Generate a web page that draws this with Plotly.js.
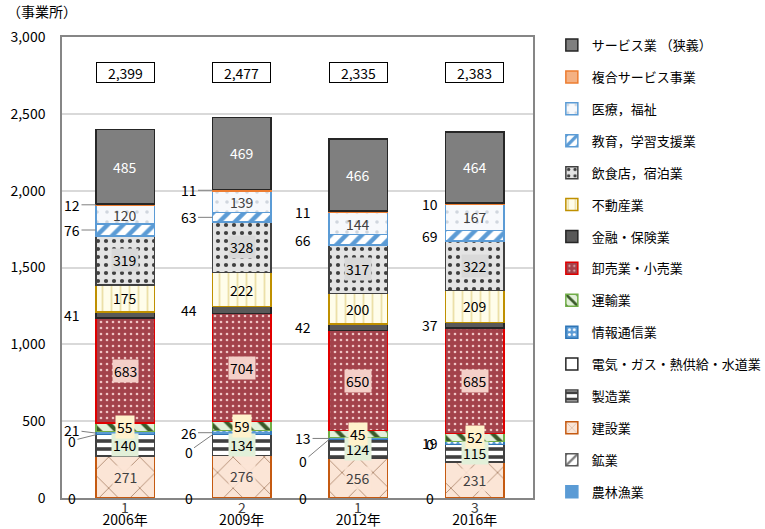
<!DOCTYPE html>
<html>
<head>
<meta charset="utf-8">
<script src="https://cdn.plot.ly/plotly-3.0.1.min.js"></script>
<style>body{margin:0;background:#fff}#chart{width:765px;height:529px}</style>
</head>
<body>
<div id="chart"></div>
<script>
// 事業所数（産業大分類別）
var years = ['2006年', '2009年', '2012年', '2016年'];

var agri = [1, 2, 1, 3];            // 農林漁業
var mining = [0, 0, 0, 0];          // 鉱業
var construction = [271, 276, 256, 231];
var manufacturing = [140, 134, 124, 115];
var utilities = [0, 0, 0, 0];       // 電気・ガス・熱供給・水道業
var infoComm = [21, 26, 13, 19];
var transport = [55, 59, 45, 52];
var wholesale = [683, 704, 650, 685];
var finance = [41, 44, 42, 37];
var realEstate = [175, 222, 200, 209];
var food = [319, 328, 317, 322];
var education = [76, 63, 66, 69];
var medical = [120, 139, 144, 167];
var compound = [12, 11, 11, 10];
var services = [485, 469, 466, 464];
var totals = [2399, 2477, 2335, 2383];

// 系列の定義（下から順）
var series = [
  {name: '農林漁業', y: agri, fill: '#5b9bd5', line: '#5b9bd5', lab: 'bottom'},
  {name: '鉱業', y: mining, fill: '#ffffff', line: '#595959', shape: '/', fg: '#7f7f7f', lab: 'left'},
  {name: '建設業', y: construction, fill: '#fbe5d6', line: '#c55a11', shape: 'x', fg: '#b08a70', size: 22, sol: 0.08, lab: 'in', bg: 'rgba(251,229,214,0.85)', tc: '#404040'},
  {name: '製造業', y: manufacturing, fill: '#ffffff', line: '#404040', shape: '-', fg: '#404040', size: 8, sol: 0.45, lab: 'in', bg: '#e2f0d9', tc: '#000'},
  {name: '電気・ガス・熱供給・水道業', y: utilities, fill: '#ffffff', line: '#262626', lab: 'left'},
  {name: '情報通信業', y: infoComm, fill: '#5b9bd5', line: '#2e75b6', shape: '.', fg: '#ffffff', size: 6, sol: 0.3, lab: 'left'},
  {name: '運輸業', y: transport, fill: '#e2f0d9', line: '#70ad47', shape: '\\', fg: '#3a5a2a', size: 12, sol: 0.35, lab: 'in', bg: '#fff2cc', tc: '#000'},
  {name: '卸売業・小売業', y: wholesale, fill: '#a3424b', line: '#e00000', shape: '.', fg: '#efc4c4', size: 6, sol: 0.15, lab: 'in', bg: '#f4cfc8', tc: '#000'},
  {name: '金融・保険業', y: finance, fill: '#595959', line: '#262626', lab: 'left'},
  {name: '不動産業', y: realEstate, fill: '#fffdea', line: '#bf9000', shape: '|', fg: '#ece0a8', size: 9, sol: 0.2, lab: 'in', tc: '#000'},
  {name: '飲食店，宿泊業', y: food, fill: '#e4e4e4', line: '#404040', shape: '.', fg: '#404040', size: 8, sol: 0.22, lab: 'in', bg: '#d9d9d9', tc: '#000'},
  {name: '教育，学習支援業', y: education, fill: '#ffffff', line: '#5b9bd5', shape: '/', fg: '#5b9bd5', size: 11, sol: 0.4, lab: 'left'},
  {name: '医療，福祉', y: medical, fill: '#f7f9fc', line: '#5b9bd5', shape: '.', fg: '#d0d6de', size: 10, sol: 0.1, lab: 'in', tc: '#404040'},
  {name: '複合サービス事業', y: compound, fill: '#f4b183', line: '#ed7d31', lab: 'left'},
  {name: 'サービス業 （狭義）', y: services, fill: '#7f7f7f', line: '#262626', lab: 'in', tc: '#ffffff'}
];

var font = 'Noto Sans CJK JP, Noto Sans, sans-serif';
var data = [];
var annotations = [];
var base = [0, 0, 0, 0];
var axOff = [-24, -24, -26, -16];
// 引出線を描く系列・年（それ以外は線なし）
var leader = {
  '鉱業': [0, 0, 0, 0],
  '電気・ガス・熱供給・水道業': [1, 1, 1, 0],
  '情報通信業': [1, 1, 1, 0],
  '金融・保険業': [0, 0, 0, 0],
  '教育，学習支援業': [1, 1, 0, 0],
  '複合サービス事業': [1, 1, 0, 0]
};
var elecShift = [6, 17, 22, 0];
var infoShift = [-3, 0, 0, 0];

series.forEach(function (s, k) {
  var marker = {color: s.fill, line: {color: s.line, width: 1.5}};
  if (s.shape) {
    marker.pattern = {shape: s.shape, bgcolor: s.fill, fgcolor: s.fg,
      size: s.size || 10, solidity: s.sol || 0.3, fillmode: 'replace'};
  }
  data.push({
    type: 'bar', x: years, y: s.y, name: s.name, legendgroup: 'g' + k,
    legendrank: 100 - k, marker: marker, width: 0.5, hoverinfo: 'name+y'
  });

  s.y.forEach(function (v, i) {
    var mid = base[i] + v / 2;
    if (s.lab === 'in') {
      var a = {x: i, y: mid, text: String(v), showarrow: false,
        font: {family: font, size: 14, color: s.tc}};
      if (s.bg) { a.bgcolor = s.bg; a.borderpad = 1; }
      annotations.push(a);
    } else if (s.lab === 'left') {
      var ln = leader[s.name][i];
      var ay = 0;
      if (s.name === '電気・ガス・熱供給・水道業') ay = elecShift[i];
      if (s.name === '情報通信業') ay = infoShift[i];
      annotations.push({x: i - 0.25, y: mid, text: String(v), showarrow: true,
        arrowhead: 0, arrowwidth: 1, arrowcolor: ln ? '#7f7f7f' : 'rgba(0,0,0,0)',
        ax: axOff[i], ay: ay, standoff: 0,
        font: {family: font, size: 14, color: '#000'}});
    } else if (s.lab === 'bottom') {
      annotations.push({x: i, y: 0, yshift: -9, text: String(v), showarrow: false,
        font: {family: font, size: 14, color: '#404040'}});
    }
    base[i] += v;
  });
});

// 合計
totals.forEach(function (t, i) {
  annotations.push({x: i, y: 2770, text: t.toLocaleString('en-US'), showarrow: false,
    bgcolor: '#fff', bordercolor: '#000', borderwidth: 1, borderpad: 1,
    width: 55, height: 17, font: {family: font, size: 14, color: '#000'}});
});

annotations.push({xref: 'paper', yref: 'paper', x: -0.12, y: 1.03, xanchor: 'left', yanchor: 'bottom',
  text: '（事業所）', showarrow: false, font: {family: font, size: 14, color: '#000'}});

var layout = {
  width: 765, height: 529,
  margin: {l: 62, r: 232, t: 37, b: 31, autoexpand: false},
  barmode: 'stack',
  bargap: 0.5,
  paper_bgcolor: '#fff', plot_bgcolor: '#fff',
  font: {family: font, size: 14, color: '#000'},
  xaxis: {
    type: 'category', showline: true, linecolor: '#868686', linewidth: 2, mirror: true,
    ticks: '', ticklabelstandoff: 8, tickfont: {size: 14}
  },
  yaxis: {
    range: [0, 3000], dtick: 500, tickformat: ',d', showline: true, linecolor: '#868686',
    linewidth: 1.5, mirror: true, gridcolor: '#d9d9d9', gridwidth: 1.5, zeroline: false,
    ticks: '', ticklabelstandoff: 12, tickfont: {size: 14}
  },
  legend: {
    x: 1.04, xanchor: 'left', y: 1.015, yanchor: 'top',
    traceorder: 'grouped', tracegroupgap: 12, maxheight: 1,
    font: {family: font, size: 13, color: '#000'}
  },
  annotations: annotations
};

Plotly.newPlot('chart', data, layout, {displayModeBar: false});
</script>
</body>
</html>
